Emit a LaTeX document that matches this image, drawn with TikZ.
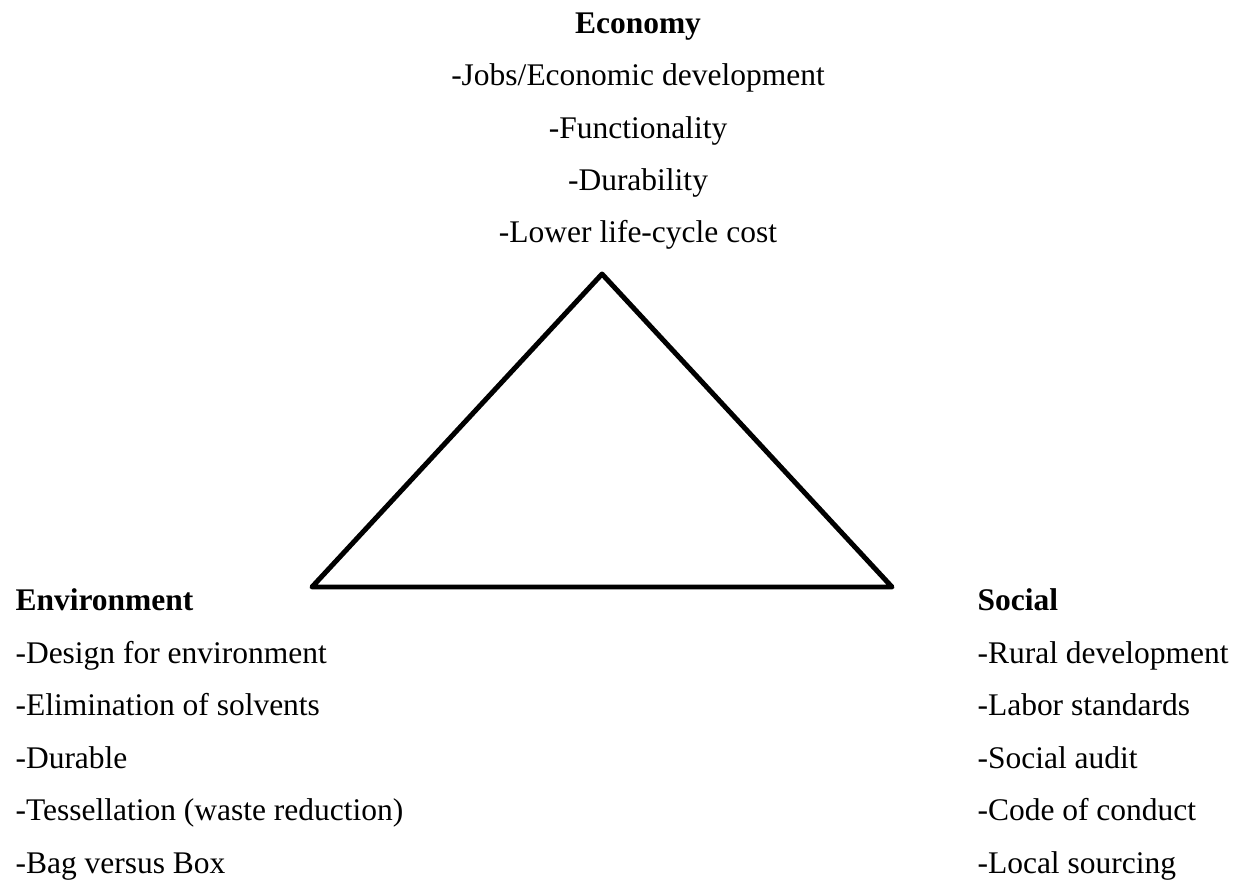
\documentclass[tikz,border=0pt]{standalone}
\usepackage{fontspec}
\setmainfont{Liberation Serif}
\usetikzlibrary{positioning}

\begin{document}
\begin{tikzpicture}[x=0.381pt,y=-0.381pt,
    every node/.style={inner sep=0pt,font=\fontsize{12}{20}\selectfont},
    side/.style={line width=1.9pt,line join=round}]
  \useasboundingbox (0,0) rectangle (1243,884);

  \coordinate (apex) at (602,274);
  \coordinate (corner1) at (312,587);
  \coordinate (corner2) at (892,587);
  \draw [side] (apex) -- (corner1) -- (corner2) -- cycle;

  % base anchor sits on the last line
  \node [align=center,anchor=base] (economy) at (638,243)
    {\textbf{Economy}\\-Jobs/Economic development\\-Functionality\\-Durability\\-Lower life-cycle cost};
  \node [align=left,anchor=base west] (environment) at (15,873)
    {\textbf{Environment}\\-Design for environment\\-Elimination of solvents\\-Durable\\-Tessellation (waste reduction)\\-Bag versus Box};
  \node [align=left,anchor=base west] (social) at (977,873)
    {\textbf{Social}\\-Rural development\\-Labor standards\\-Social audit\\-Code of conduct\\-Local sourcing};
\end{tikzpicture}
\end{document}
